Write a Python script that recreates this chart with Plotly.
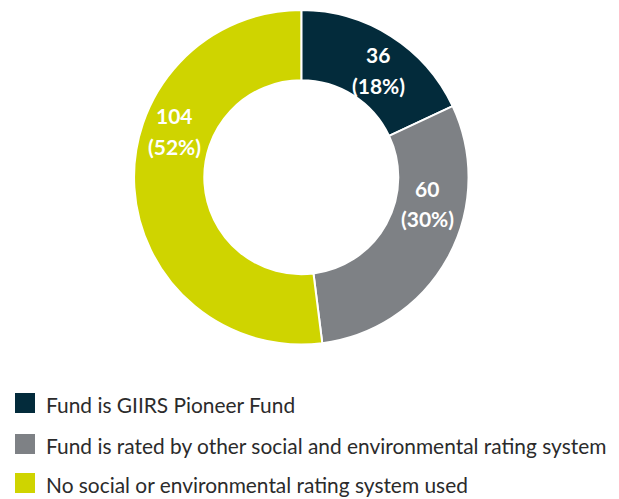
import plotly.graph_objects as go

# ---- data ----
categories = [
    "Fund is GIIRS Pioneer Fund",
    "Fund is rated by other social and environmental rating system",
    "No social or environmental rating system used",
]
counts = [36, 60, 104]

# ---- style ----
colors = ["#032b3b", "#7e8185", "#cfd400"]
PAGE_OFF = 8  # default body margin of the html page
W, H = 619 - PAGE_OFF, 499 - PAGE_OFF


def px(x):
    return (x - PAGE_OFF) / W


def py(y):
    return 1 - (y - PAGE_OFF) / H


total = sum(counts)
pcts = [round(100 * c / total) for c in counts]

fig = go.Figure(
    go.Pie(
        values=counts,
        labels=categories,
        sort=False,
        direction="clockwise",
        rotation=0,
        hole=0.58,
        marker=dict(colors=colors, line=dict(color="white", width=2)),
        textinfo="none",
        hoverinfo="label+value+percent",
        showlegend=False,
        domain=dict(x=[px(134), px(468.6)], y=[py(344.5), py(10)]),
    )
)

# slice label placement (pixel positions: x, line1 y, line2 y)
label_pos = [(378, 54, 86), (427, 188, 218), (174, 116, 147)]
annotations = []
for (x, y1, y2), c, p in zip(label_pos, counts, pcts):
    for y, t in ((y1, f"{c}"), (y2, f"({p}%)")):
        annotations.append(
            dict(
                x=px(x), y=py(y), xref="paper", yref="paper",
                text=t, showarrow=False, xanchor="center", yanchor="middle",
                font=dict(family="Lato", size=21, color="white", weight="bold"),
            )
        )

# custom legend
legend_rows = [403, 444, 483]
shapes = []
for yc, cat, col in zip(legend_rows, categories, colors):
    shapes.append(
        dict(
            type="rect", xref="paper", yref="paper",
            x0=px(15), x1=px(35), y0=py(yc + 10), y1=py(yc - 10),
            fillcolor=col, line=dict(width=0),
        )
    )
    annotations.append(
        dict(
            x=px(44), y=py(yc + 1), xref="paper", yref="paper",
            text=cat, showarrow=False, xanchor="left", yanchor="middle",
            font=dict(family="Lato", size=20.9, color="#2b2b2b"),
        )
    )

fig.update_layout(
    width=W, height=H,
    margin=dict(l=0, r=0, t=0, b=0),
    paper_bgcolor="white", plot_bgcolor="white",
    annotations=annotations, shapes=shapes,
    showlegend=False,
)

fig.write_html("out.html")
